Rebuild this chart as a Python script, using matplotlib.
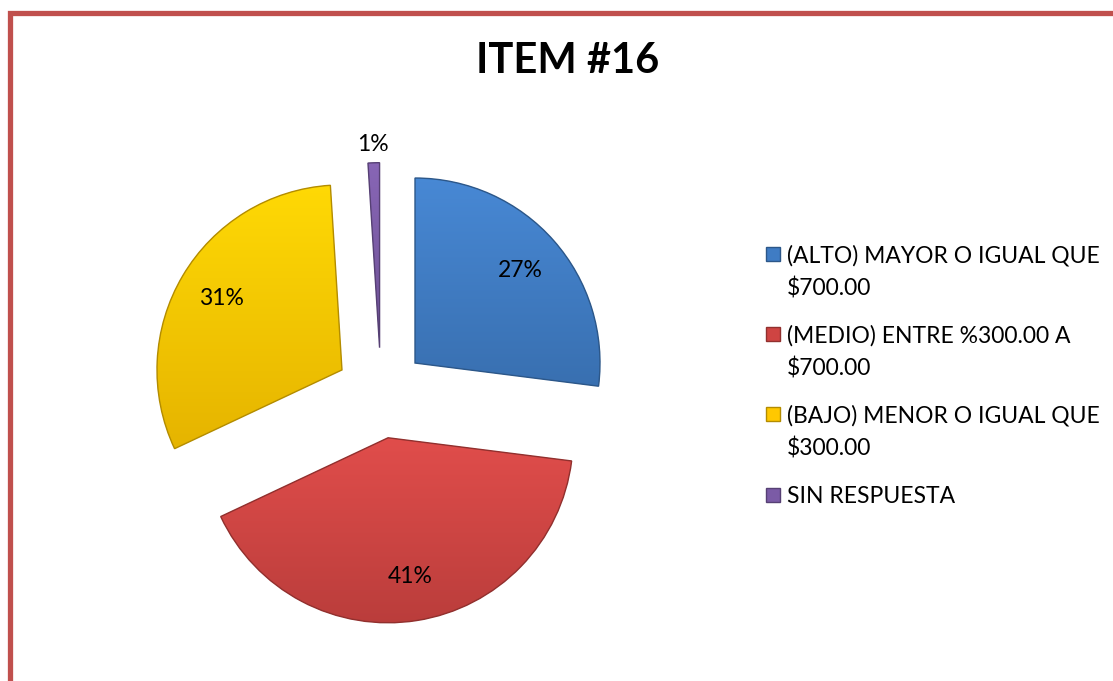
import numpy as np
import matplotlib
matplotlib.use('Agg')
import matplotlib.pyplot as plt
import matplotlib.colors as mcolors
from matplotlib.lines import Line2D
from matplotlib.patches import Rectangle, PathPatch

# datos del grafico
titulo = 'ITEM #16'
categorias = ['(ALTO) MAYOR O IGUAL QUE\n\\$700.00',
              '(MEDIO) ENTRE %300.00 A\n\\$700.00',
              '(BAJO) MENOR O IGUAL QUE\n\\$300.00',
              'SIN RESPUESTA']
porcentajes = [27, 41, 31, 1]
colores = ['#3f7cc4', '#cf4442', '#ffc800', '#7b5ba6']

W, H = 1113, 681
plt.rcParams['font.family'] = ['Lato', 'DejaVu Sans']

fig = plt.figure(figsize=(W / 100, H / 100), dpi=100)

#center of the pie ~ (381,393) px, radius ~185 px
R = 185
cx, cy = 381, 393
ax = fig.add_axes([(cx - 1.5 * R) / W, (H - cy - 1.5 * R) / H, 3 * R / W, 3 * R / H])

wedges, textos, pcts = ax.pie(porcentajes, colors=colores, startangle=90, counterclock=False,
                              explode=[0.245] * 4, radius=1, autopct='%1.0f%%', pctdistance=0.76,
                              textprops={'fontsize': 16.5, 'color': 'black'})

#soft gradient + darker edge to fake the bevel look
grad = np.linspace(0, 1, 256).reshape(-1, 1)
for w, c in zip(wedges, colores):
    base = np.array(mcolors.to_rgb(c))
    light = np.clip(base * 1.06 + 0.02, 0, 1)
    dark = base * 0.9
    cmap = mcolors.LinearSegmentedColormap.from_list('g', [dark, light])
    bb = w.get_path().get_extents(w.get_transform() + ax.transData.inverted())
    im = ax.imshow(grad, cmap=cmap, origin='lower', aspect='auto',
                   extent=[bb.x0, bb.x1, bb.y0, bb.y1], zorder=w.get_zorder() + 0.1)
    im.set_clip_path(w)
    ax.add_patch(PathPatch(w.get_path(), transform=w.get_transform(),
                           fill=False, edgecolor=base * 0.7, lw=1.0, zorder=3))
ax.set_xlim(-1.5, 1.5)
ax.set_ylim(-1.5, 1.5)
ax.set_aspect('equal')
ax.axis('off')

for t in pcts:
    t.set_zorder(5)

#the 1% label sits outside its slice
w = wedges[3]
ang = np.deg2rad((w.theta1 + w.theta2) / 2)
pcts[3].set_position((w.center[0] + 1.1 * np.cos(ang), w.center[1] + 1.1 * np.sin(ang)))

fig.text(568 / W, 1 - 61 / H, titulo, ha='center', va='center', fontsize=30, fontweight='bold')

#legend drawn by hand so the marker sits on the first line
ley_y = [258, 338, 418, 499]
for lab, c, yy in zip(categorias, colores, ley_y):
    fig.text(787 / W, 1 - (yy - 13) / H, lab, ha='left', va='top', fontsize=16.5, linespacing=1.6)
    base = np.array(mcolors.to_rgb(c))
    fig.patches.append(Rectangle((766 / W, 1 - (yy + 3) / H), 14 / W, 14 / H, transform=fig.transFigure,
                                 facecolor=c, edgecolor=base * 0.7, lw=1))

#red frame (top and left only, the rest is cut)
fig.add_artist(Line2D([9.5 / W, 9.5 / W, 1.0], [0.0, 1 - 12.5 / H, 1 - 12.5 / H],
                      transform=fig.transFigure, color='#c0504d', lw=3.8, solid_joinstyle='miter'))

fig.savefig('out.png', dpi=100)
